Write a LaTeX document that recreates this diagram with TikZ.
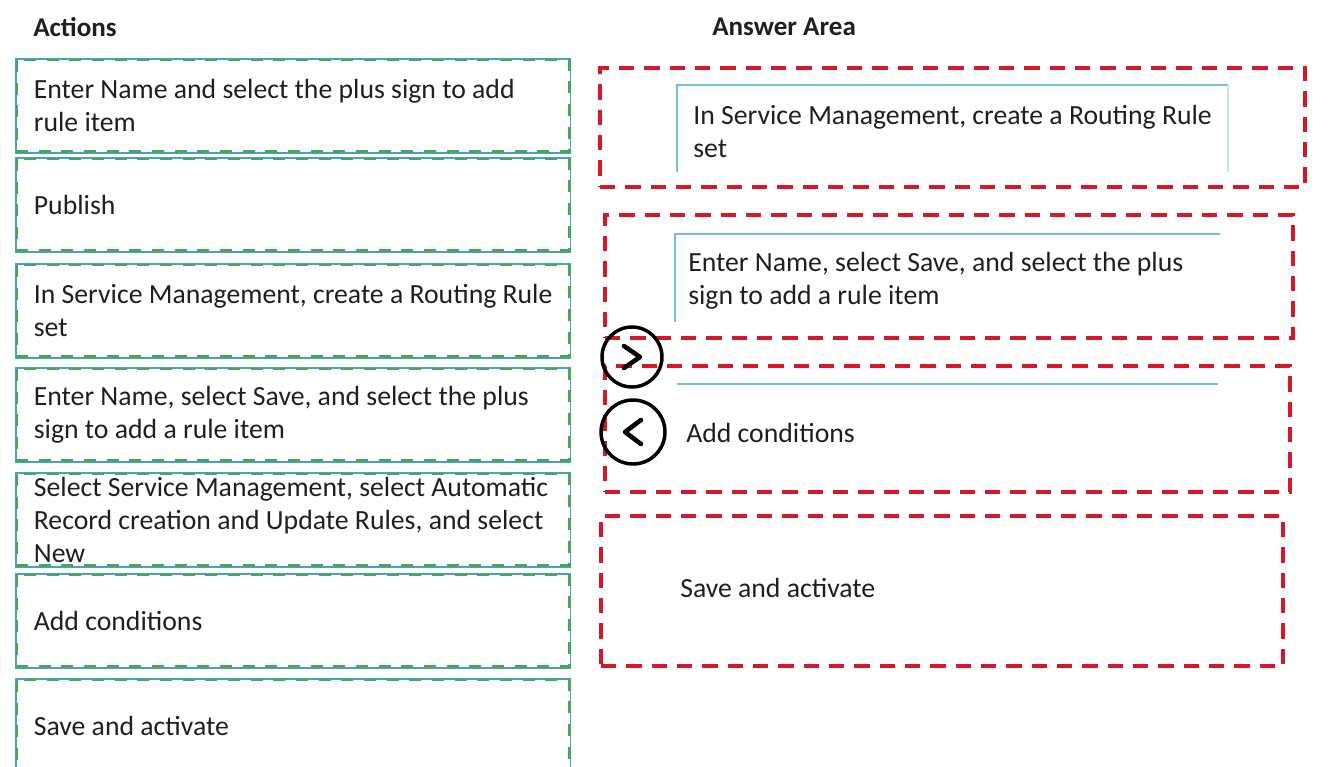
\documentclass[tikz,border=0pt]{standalone}
\usepackage{fontspec}
\setmainfont{Carlito}
\usetikzlibrary{positioning,fit}
\definecolor{boxblue}{RGB}{72,160,205}
\definecolor{dashgreen}{RGB}{70,168,84}
\definecolor{slotred}{RGB}{212,24,40}
\definecolor{lineblue}{RGB}{110,192,222}
\definecolor{paleblue}{RGB}{195,230,242}

\begin{document}
\begin{tikzpicture}[x=0.75pt,y=-0.75pt,
  every node/.style={font=\fontsize{20.8}{24.75}\selectfont, text=black!88},
  action/.style={draw=boxblue, line width=1.3pt, anchor=north west, minimum width=416pt, minimum height=70.5pt, inner xsep=13.5pt, inner ysep=0pt, text width=389pt, align=flush left},
  actdash/.style={draw=dashgreen, line width=2.2pt, dash pattern=on 9pt off 8pt},
  slot/.style={draw=slotred, line width=2.6pt, dash pattern=on 11.5pt off 7.5pt, inner sep=0pt},
  answer/.style={anchor=west, align=left, inner sep=0pt},
  heading/.style={anchor=west, inner sep=0pt, font=\bfseries\fontsize{20.3}{24}\selectfont},
  arrowbtn/.style={circle, draw=black, line width=2.6pt, inner sep=0pt},
  chev/.style={line width=3.4pt, line cap=round, line join=round}]
\useasboundingbox (0,0) rectangle (1329,767);

% headings
\node[heading] (acts) at (33,27) {Actions};
\node[heading] (area) at (712,27) {Answer Area};

% action boxes
\node[action] (a1) at (15,58) {Enter Name and select the plus sign to add\\rule item};
\node[action] (a2) at (15,157) {Publish};
\node[action] (a3) at (15,263) {In Service Management, create a Routing Rule\\set};
\node[action] (a4) at (15,367) {Enter Name, select Save, and select the plus\\sign to add a rule item};
\node[action] (a5) at (15,472) {Select Service Management, select Automatic\\Record creation and Update Rules, and select\\New};
\node[action] (a6) at (15,573) {Add conditions};
\node[action] (a7) at (15,678) {Save and activate};
\foreach \i in {1,...,7}
  \draw[actdash] ([shift={(2,2)}]a\i.north west) rectangle ([shift={(-2,-2)}]a\i.south east);

% answer slots
\node[slot, fit={(600,68) (1305,187)}] (s1) {};
\node[slot, fit={(605,215) (1293,338)}] (s2) {};
\node[slot, fit={(605,366) (1290,492)}] (s3) {};
\node[slot, fit={(601,516) (1283,666)}] (s4) {};

\draw[lineblue, line width=1.5pt] (677,172) -- (677,85) -- (1228,85);
\draw[paleblue, line width=1.5pt] (1228,85) -- (1228,172);
\draw[lineblue, line width=1.5pt] (675,322) -- (675,234) -- (1220,234);
\draw[lineblue, line width=1.5pt] (677,384) -- (1218,384);

\node[answer] (t1) at (693,131) {In Service Management, create a Routing Rule\\set};
\node[answer] (t2) at (688,281) {Enter Name, select Save, and select the plus\\sign to add a rule item};
\node[answer] (t3) at (686,433) {Add conditions};
\node[answer] (t4) at (680,588) {Save and activate};

% move buttons
\node[arrowbtn, minimum size=45pt] (fwd) at (632,357) {};
\node[arrowbtn, minimum size=48pt] (back) at (633,432) {};
\draw[chev] ([shift={(-8,-11)}]fwd.center) -- ([shift={(8,0)}]fwd.center) -- ([shift={(-8,11)}]fwd.center);
\draw[chev] ([shift={(8,-12)}]back.center) -- ([shift={(-8,0)}]back.center) -- ([shift={(8,12)}]back.center);
\end{tikzpicture}
\end{document}
